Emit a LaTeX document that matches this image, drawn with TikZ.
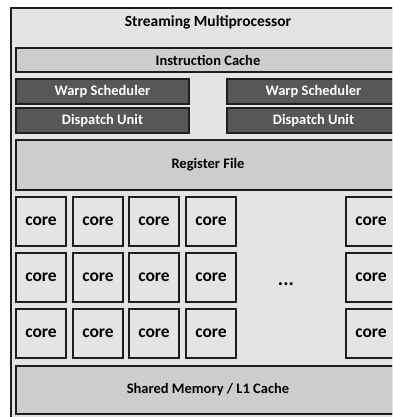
\documentclass[tikz,border=0pt]{standalone}
\usepackage{fontspec}
\setmainfont{Carlito}
\usetikzlibrary{shadows}
\definecolor{bgfill}{HTML}{E4E4E4}
\definecolor{midfill}{HTML}{CDCDCD}
\definecolor{darkfill}{HTML}{575757}
\definecolor{edge}{HTML}{1E1E1E}
\begin{document}
\begin{tikzpicture}[x=1pt,y=-1pt,
  sh/.style={drop shadow={shadow xshift=1.2pt, shadow yshift=-1.2pt, opacity=0.35, fill=black}},
  blk/.style={draw=edge, line width=1.1pt, rectangle, inner sep=0pt, sh, font=\bfseries\fontsize{14.5}{15}\selectfont},
  light/.style={blk, fill=midfill},
  dark/.style={blk, fill=darkfill, text=white},
  corebox/.style={blk, fill=bgfill, minimum width=50pt, minimum height=49pt, font=\bfseries\fontsize{17.5}{18}\selectfont}]
\useasboundingbox (0,0) rectangle (392,417);
\clip (0,0) rectangle (392,417);
\fill[white] (0,0) rectangle (392,417);
\node[draw=edge, line width=1.1pt, fill=bgfill, sh, minimum width=394pt, minimum height=412pt, inner sep=0pt] (sm) at (208,214) {};
\node[font=\bfseries\fontsize{15.5}{16}\selectfont] (title) at (208,22) {Streaming Multiprocessor};
\node[light, minimum width=384pt, minimum height=24pt] (icache) at (208,60) {Instruction Cache};
\node[dark, minimum width=173pt, minimum height=25pt] (warpL) at (102.5,91.5) {Warp Scheduler};
\node[dark, minimum width=173pt, minimum height=25pt] (dispL) at (102.5,120.5) {Dispatch Unit};
\node[dark, minimum width=173pt, minimum height=25pt] (warpR) at (313.5,91.5) {Warp Scheduler};
\node[dark, minimum width=173pt, minimum height=25pt] (dispR) at (313.5,120.5) {Dispatch Unit};
\node[light, minimum width=384pt, minimum height=50pt] (reg) at (208,165) {Register File};
\foreach \r/\y in {1/221.5,2/277.5,3/333.5}{
  \foreach \c/\x in {1/41,2/98,3/154,4/211,5/371}{
    \node[corebox] (core\r\c) at (\x,\y) {core};
  }
}
\node[font=\bfseries\fontsize{20}{20}\selectfont] (dots) at (286,284) {...};
\node[light, minimum width=384pt, minimum height=48pt] (smem) at (208,390) {Shared Memory / L1 Cache};
\end{tikzpicture}
\end{document}
